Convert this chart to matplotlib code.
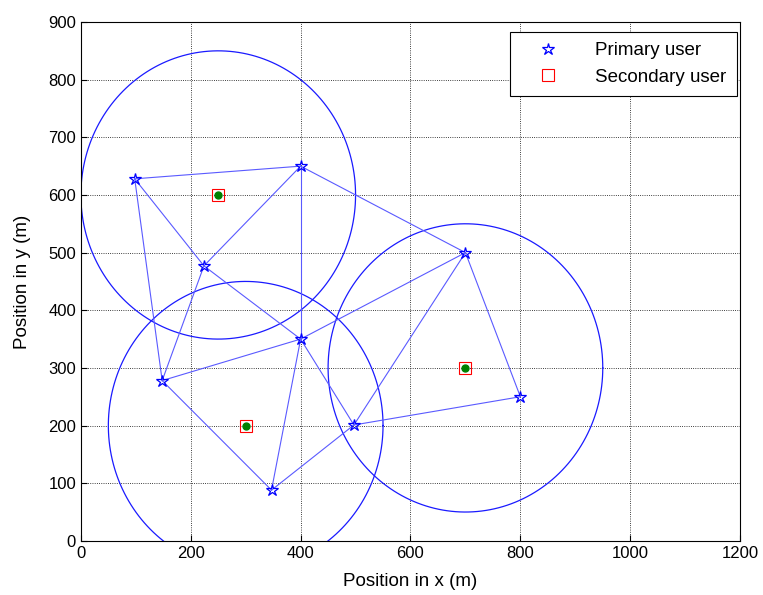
import matplotlib.pyplot as plt
import numpy as np

plt.rcParams['font.family'] = ['Liberation Sans', 'DejaVu Sans']

# Primary user positions (m)
pu_x = [98, 400, 224, 700, 400, 148, 497, 800, 347]
pu_y = [628, 650, 477, 500, 350, 278, 201, 250, 88]

# Links between primary users (index pairs)
links = [(0, 1), (0, 5), (0, 2), (1, 2), (1, 4), (1, 3), (2, 4), (2, 5),
         (4, 3), (4, 5), (4, 6), (4, 8), (5, 8), (8, 6), (6, 3), (6, 7),
         (3, 7)]

# Secondary user positions (m) and coverage radius
su_x = [250, 300, 700]
su_y = [600, 200, 300]
radius = 250

fig = plt.figure(figsize=(7.63, 5.95), dpi=100)
ax = fig.add_axes([0.106, 0.091, 0.864, 0.872])

# coverage circles
theta = np.linspace(0, 2 * np.pi, 200)
for cx, cy in zip(su_x, su_y):
    ax.plot(cx + radius * np.cos(theta), cy + radius * np.sin(theta),
            color='#1a1aff', lw=0.9)

# links
for i, j in links:
    ax.plot([pu_x[i], pu_x[j]], [pu_y[i], pu_y[j]], color='#5a5aff', lw=0.8)

ax.plot(pu_x, pu_y, linestyle='none', marker='*', markersize=9,
        markerfacecolor='none', markeredgecolor='blue', markeredgewidth=0.9,
        label='Primary user')
ax.plot(su_x, su_y, linestyle='none', marker='s', markersize=8,
        markerfacecolor='none', markeredgecolor='red', markeredgewidth=0.8,
        label='Secondary user')
ax.plot(su_x, su_y, linestyle='none', marker='o', markersize=5,
        color='green')

ax.set_xlim(0, 1200)
ax.set_ylim(0, 900)
ax.set_xticks(np.arange(0, 1201, 200))
ax.set_yticks(np.arange(0, 901, 100))
ax.grid(True, color='black', linestyle=':', linewidth=0.6)
ax.tick_params(direction='in', labelsize=12, length=4)
ax.set_xlabel('Position in x (m)', fontsize=13.5, labelpad=9)
ax.set_ylabel('Position in y (m)', fontsize=13.5, labelpad=12)

leg = ax.legend(loc='upper right', bbox_to_anchor=(0.995, 0.981),
                borderaxespad=0, fontsize=13.5, fancybox=False,
                framealpha=1, edgecolor='black', borderpad=0.55,
                handlelength=3, handletextpad=1.0, labelspacing=0.5)
leg.get_frame().set_linewidth(0.8)

fig.savefig('out.png', dpi=100)
